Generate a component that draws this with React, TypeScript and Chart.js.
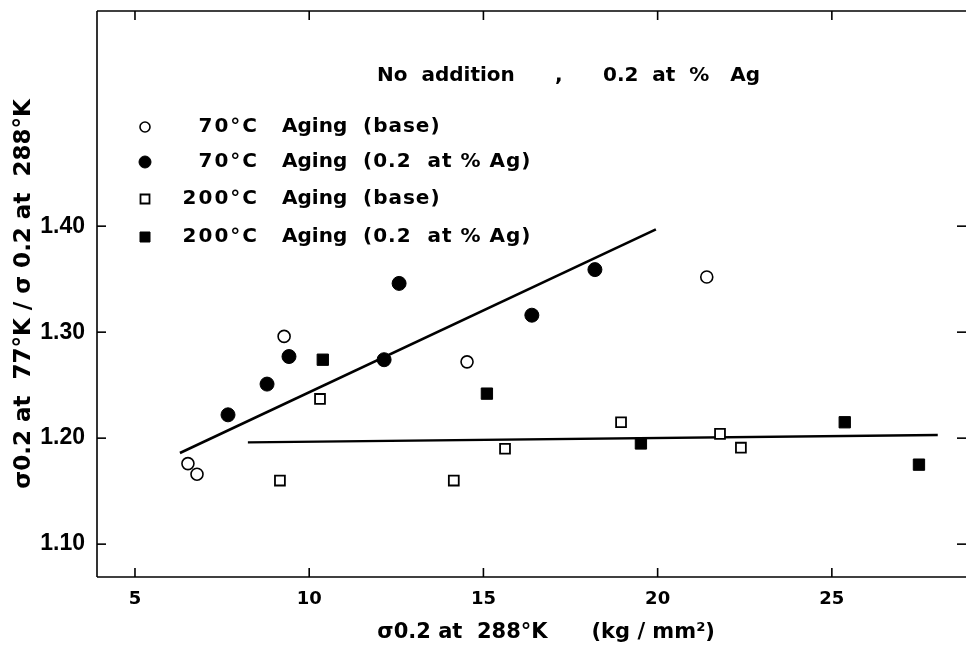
import React, { useEffect, useRef } from 'react';
import { Chart, registerables } from 'chart.js';

Chart.register(...registerables);

// ---- data ----
const xTicks = [5, 10, 15, 20, 25];
const yTicks = [1.1, 1.2, 1.3, 1.4];

const base70X = [6.52, 6.78, 9.28, 14.53, 21.41];
const base70Y = [1.176, 1.166, 1.296, 1.272, 1.352];

const ag70X = [7.67, 8.79, 9.42, 12.15, 12.58, 16.39, 18.2];
const ag70Y = [1.222, 1.251, 1.277, 1.274, 1.346, 1.316, 1.359];

const base200X = [9.16, 10.31, 14.15, 15.62, 18.95, 21.79, 22.39];
const base200Y = [1.16, 1.237, 1.16, 1.19, 1.215, 1.204, 1.191];

const ag200X = [10.39, 15.1, 19.52, 25.37, 27.5];
const ag200Y = [1.274, 1.242, 1.195, 1.215, 1.175];

const fitRiseX = [6.29, 19.95];
const fitRiseY = [1.186, 1.397];
const fitFlatX = [8.24, 28.04];
const fitFlatY = [1.196, 1.203];

const legendTemps = ['70°C', '70°C', '200°C', '200°C'];
const legendWord = 'Aging';
const legendNotes = ['(base)', '(0.2  at % Ag)', '(base)', '(0.2  at % Ag)'];
const headerParts = ['No  addition', ',', '0.2  at  %   Ag'];

const xTitle = '    σ0.2 at  288°K      (kg / mm²)';
const yTitle = 'σ0.2 at  77°K / σ 0.2 at  288°K';

const zip = (xs: number[], ys: number[]) => xs.map((x, i) => ({ x, y: ys[i] }));

const FONT = '"DejaVu Sans", sans-serif';

const zeroPad = (s: any) => {
  s.paddingTop = 0;
  s.paddingBottom = 0;
  s.paddingLeft = 0;
  s.paddingRight = 0;
};

const framePlugin = {
  id: 'frame',
  afterDraw(chart: any) {
    const { ctx, chartArea: a, scales } = chart;
    const xs = scales.x;
    const ys = scales.y;
    ctx.save();
    ctx.strokeStyle = '#000';
    ctx.lineWidth = 1.6;
    const seg = (x1: number, y1: number, x2: number, y2: number) => {
      ctx.beginPath();
      ctx.moveTo(x1, y1);
      ctx.lineTo(x2, y2);
      ctx.stroke();
    };
    // frame (left, bottom, top)
    seg(a.left, a.top, a.left, a.bottom);
    seg(a.left, a.bottom, a.right, a.bottom);
    seg(a.left, a.top, a.right, a.top);
    // inward ticks on all sides
    const L = 9;
    xTicks.forEach((v) => {
      const px = xs.getPixelForValue(v);
      seg(px, a.bottom, px, a.bottom - L);
      seg(px, a.top, px, a.top + L);
    });
    yTicks.forEach((v) => {
      const py = ys.getPixelForValue(v);
      seg(a.left, py, a.left + L, py);
      seg(a.right, py, a.right - L, py);
    });

    // header
    ctx.fillStyle = '#000';
    ctx.textBaseline = 'middle';
    ctx.font = `bold 20px ${FONT}`;
    ctx.textAlign = 'left';
    const hy = a.top + 65;
    ctx.fillText(headerParts[0], a.left + 280, hy);
    ctx.fillText(headerParts[1], a.left + 458, hy);
    ctx.fillText(headerParts[2], a.left + 506, hy);

    // legend
    const rows = [a.top + 116, a.top + 151, a.top + 188, a.top + 226];
    const mx = a.left + 48;
    const ds = chart.data.datasets;
    rows.forEach((ry: number, i: number) => {
      const d = ds[i];
      const r = d.legendRadius;
      ctx.fillStyle = d.backgroundColor;
      ctx.strokeStyle = d.borderColor;
      ctx.lineWidth = d.pointBorderWidth;
      ctx.beginPath();
      if (d.pointStyle === 'circle') {
        ctx.arc(mx, ry, r, 0, Math.PI * 2);
      } else {
        ctx.rect(mx - r, ry - r, 2 * r, 2 * r);
      }
      ctx.fill();
      ctx.stroke();

      ctx.fillStyle = '#000';
      ctx.font = `bold 20px ${FONT}`;
      (ctx as any).letterSpacing = '2px';
      ctx.textAlign = 'right';
      ctx.fillText(legendTemps[i], a.left + 162, ry);
      ctx.textAlign = 'left';
      (ctx as any).letterSpacing = '0px';
      ctx.fillText(legendWord, a.left + 185, ry);
      (ctx as any).letterSpacing = '1px';
      ctx.fillText(legendNotes[i], a.left + 266, ry);
      (ctx as any).letterSpacing = '0px';
    });
    ctx.restore();
  },
};

export default function App() {
  const ref = useRef<HTMLCanvasElement | null>(null);

  useEffect(() => {
    if (!ref.current) return;
    const chart = new Chart(ref.current, {
      type: 'scatter',
      data: {
        datasets: [
          {
            label: '70°C Aging (base)',
            data: zip(base70X, base70Y),
            pointStyle: 'circle',
            pointRadius: 6,
            pointBorderWidth: 1.6,
            backgroundColor: '#fff',
            borderColor: '#000',
            legendRadius: 5,
          } as any,
          {
            label: '70°C Aging (0.2 at % Ag)',
            data: zip(ag70X, ag70Y),
            pointStyle: 'circle',
            pointRadius: 7,
            pointBorderWidth: 1,
            backgroundColor: '#000',
            borderColor: '#000',
            legendRadius: 6,
          } as any,
          {
            label: '200°C Aging (base)',
            data: zip(base200X, base200Y),
            pointStyle: 'rect',
            pointRadius: 7,
            pointBorderWidth: 1.8,
            backgroundColor: '#fff',
            borderColor: '#000',
            legendRadius: 4.5,
          } as any,
          {
            label: '200°C Aging (0.2 at % Ag)',
            data: zip(ag200X, ag200Y),
            pointStyle: 'rect',
            pointRadius: 8,
            pointBorderWidth: 1,
            backgroundColor: '#000',
            borderColor: '#000',
            legendRadius: 5,
          } as any,
          {
            label: 'fit (70°C)',
            data: zip(fitRiseX, fitRiseY),
            showLine: true,
            pointRadius: 0,
            borderColor: '#000',
            borderWidth: 2.6,
            backgroundColor: '#000',
          } as any,
          {
            label: 'fit (200°C)',
            data: zip(fitFlatX, fitFlatY),
            showLine: true,
            pointRadius: 0,
            borderColor: '#000',
            borderWidth: 2.4,
            backgroundColor: '#000',
          } as any,
        ],
      },
      options: {
        animation: false,
        responsive: false,
        devicePixelRatio: 1,
        layout: { autoPadding: false, padding: { top: 11, right: 0, left: 0, bottom: 0 } },
        plugins: {
          legend: { display: false },
          tooltip: { enabled: false },
        },
        scales: {
          x: {
            type: 'linear',
            min: 3.91,
            max: 28.85,
            afterFit: (s: any) => {
              s.height = 71;
              zeroPad(s);
            },
            afterBuildTicks: (s: any) => {
              s.ticks = xTicks.map((v) => ({ value: v }));
            },
            grid: { display: false, drawTicks: false },
            border: { display: false },
            ticks: {
              color: '#000',
              padding: 12,
              font: { family: FONT, size: 18, weight: 'bold' },
              callback: (v: any) => String(v),
            },
            title: {
              display: true,
              text: xTitle,
              color: '#000',
              font: { family: FONT, size: 21, weight: 'bold' },
              padding: { top: 0, bottom: 3 },
            },
          },
          y: {
            type: 'linear',
            min: 1.069,
            max: 1.603,
            afterFit: (s: any) => {
              s.width = 97;
              zeroPad(s);
            },
            afterBuildTicks: (s: any) => {
              s.ticks = yTicks.map((v) => ({ value: v }));
            },
            grid: { display: false, drawTicks: false },
            border: { display: false },
            ticks: {
              color: '#000',
              padding: 12,
              font: { family: '"Liberation Sans", sans-serif', size: 23, weight: 'bold' },
              callback: (v: any) => Number(v).toFixed(2),
            },
            title: {
              display: true,
              text: yTitle,
              color: '#000',
              font: { family: FONT, size: 23, weight: 'bold' },
              padding: { top: 10, bottom: 0 },
            },
          },
        },
      } as any,
      plugins: [framePlugin],
    });
    return () => chart.destroy();
  }, []);

  return (
    <div style={{ position: 'fixed', left: 0, top: 0, width: 966, height: 648, background: '#fff', overflow: 'hidden' }}>
      <canvas ref={ref} width={966} height={648} style={{ display: 'block' }} />
    </div>
  );
}
